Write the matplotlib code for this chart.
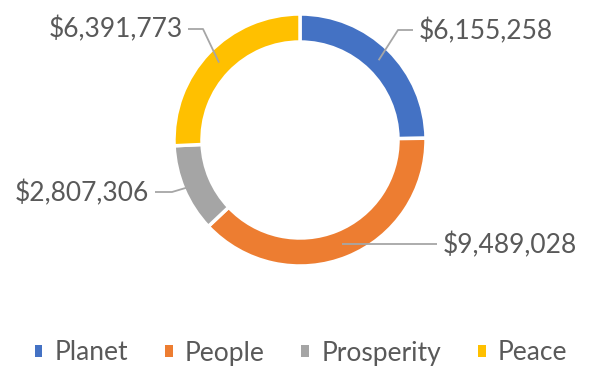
import numpy as np
import matplotlib
matplotlib.use("Agg")
import matplotlib.pyplot as plt
from matplotlib.patches import Patch

categories = ["Planet", "People", "Prosperity", "Peace"]
values = [6155258, 9489028, 2807306, 6391773]
colors = ["#4472C4", "#ED7D31", "#A5A5A5", "#FFC000"]
value_labels = ["$6,155,258", "$9,489,028", "$2,807,306", "$6,391,773"]

plt.rcParams["font.family"] = ["Lato", "DejaVu Sans"]
TEXT = "#595959"
LINE = "#A6A6A6"

W, H = 590, 368
fig = plt.figure(figsize=(W / 100, H / 100), dpi=100)
ax = fig.add_axes([0, 0, 1, 1])
ax.set_xlim(0, W)
ax.set_ylim(0, H)
ax.set_aspect("equal")
ax.axis("off")

cx, cy, R, width = 300, 228, 126, 28
wedges, _ = ax.pie(values, colors=colors, startangle=90, counterclock=False,
                   radius=R, center=(cx, cy),
                   wedgeprops=dict(width=width, edgecolor="white", linewidth=2.5))
ax.set_xlim(0, W)
ax.set_ylim(0, H)

# label layout: (anchor radius, elbow point, line end, text pos, ha)
layout = {
    "Planet": (112, (398, 338), (413, 338), (419, 337), "left"),
    "People": (112, None, (437, 124), (443, 123), "left"),
    "Prosperity": (120, (172, 176), (155, 176), (149, 175), "right"),
    "Peace": (112, (203, 339), (188, 339), (183, 339), "right"),
}

for w, cat, lab in zip(wedges, categories, value_labels):
    ang = np.deg2rad((w.theta1 + w.theta2) / 2)
    r_a, elbow, end, tpos, ha = layout[cat]
    ax_ = cx + r_a * np.cos(ang)
    ay_ = cy + r_a * np.sin(ang)
    if elbow is None:
        xs, ys = [ax_, end[0]], [ay_, end[1]]
        ys[0] = end[1]
    else:
        xs, ys = [ax_, elbow[0], end[0]], [ay_, elbow[1], end[1]]
    ax.plot(xs, ys, color=LINE, lw=1.3, solid_capstyle="butt", zorder=3)
    ax.text(tpos[0], tpos[1], lab, ha=ha, va="center", fontsize=19, color=TEXT)

handles = [Patch(facecolor=c, edgecolor="none") for c in colors]
fig.legend(handles, categories, loc="center", bbox_to_anchor=(0.51, 1 - 353 / H),
           ncol=4, frameon=False, fontsize=19, labelcolor=TEXT,
           handlelength=0.3, handleheight=0.3, handletextpad=0.45,
           columnspacing=1.4, borderpad=0, borderaxespad=0)

fig.savefig("out.png", dpi=100)
